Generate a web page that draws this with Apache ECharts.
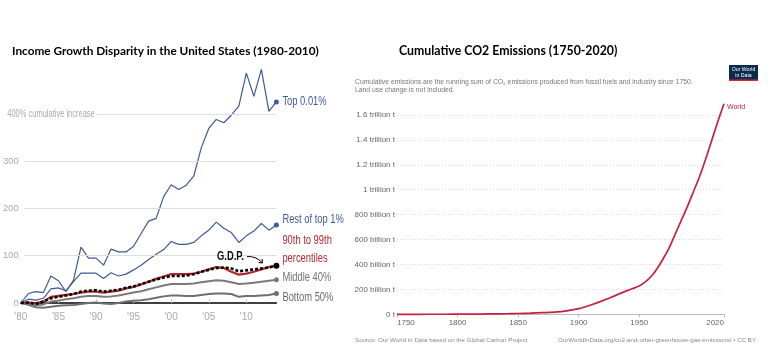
<!DOCTYPE html>
<html>
<head>
<meta charset="utf-8">
<script src="https://cdn.jsdelivr.net/npm/echarts@6.0.0/dist/echarts.min.js"></script>
<style>
html, body { margin: 0; padding: 0; background: #fff; }
#main { width: 768px; height: 351px; }
</style>
</head>
<body>
<div id="main"></div>
<script>
// left: cumulative income growth since 1980, in %
const years = [1980, 1981, 1982, 1983, 1984, 1985, 1986, 1987, 1988, 1989, 1990, 1991, 1992, 1993, 1994, 1995, 1996, 1997,
  1998, 1999, 2000, 2001, 2002, 2003, 2004, 2005, 2006, 2007, 2008, 2009, 2010, 2011, 2012, 2013, 2014]
const top001 = [0, 20, 24, 22, 57, 47, 24, 48, 118, 95, 95, 80, 114, 108, 108, 120, 147, 173,
  179, 225, 250, 240, 249, 268, 328, 369, 388, 381, 397, 416, 486, 437, 494, 405, 425]
const restTop1 = [0, 8, 6, 10, 30, 32, 26, 45, 63, 63, 63, 52, 64, 57, 61, 70, 80, 92,
  103, 113, 130, 124, 124, 128, 142, 154, 171, 158, 149, 128, 142, 152, 168, 154, 165]
const p90to99 = [0, 1, 0, 3, 13, 15, 17, 19, 22, 24, 24, 22, 24, 26, 31, 34, 39, 45,
  51, 56, 61, 61, 61, 62, 66, 71, 76, 74, 66, 60, 62, 66, 71, 76, 79]
const gdp = [0, 1, -2, 3, 10, 13, 16, 19, 24, 26, 27, 24, 26, 28, 32, 35, 40, 45,
  50, 54, 57, 57, 58, 61, 66, 70, 74, 75, 73, 67, 69, 71, 73, 75, 79]
const middle40 = [0, -2, -5, -3, 3, 5, 8, 10, 13, 15, 15, 13, 14, 16, 19, 22, 25, 29,
  33, 37, 40, 40, 40, 41, 44, 46, 48, 47, 44, 40, 41, 43, 45, 47, 49]
const bottom50 = [0, -4, -9, -10, -8, -6, -5, -4, -2, 0, 1, -1, -2, 0, 3, 5, 6, 8,
  11, 14, 16, 16, 15, 15, 17, 19, 20, 20, 19, 13, 15, 15, 16, 17, 20]
const incomeTicks = [1980, 1985, 1990, 1995, 2000, 2005, 2010]

// right: cumulative CO2 emissions, billion tonnes
const co2Years = [1750, 1760, 1770, 1780, 1790, 1800, 1810, 1820, 1830, 1840, 1850, 1860, 1870, 1880, 1890,
  1900, 1910, 1920, 1930, 1940, 1950, 1955, 1960, 1965, 1970, 1975, 1980, 1985, 1990, 1995, 2000, 2005, 2010, 2015, 2020]
const co2World = [0, 0.1, 0.2, 0.4, 0.6, 1, 1.5, 2.2, 3.2, 4.5, 6.5, 9, 13, 18, 28,
  45, 75, 110, 150, 190, 228, 260, 305, 370, 450, 540, 650, 760, 870, 990, 1110, 1250, 1400, 1550, 1690]
const co2Ticks = [1750, 1800, 1850, 1900, 1950, 2020]

const sans = "'Liberation Sans',Arial,sans-serif"
const blue = '#3f5a96'
const red = '#b7282e'
const squeeze = 0.72   // fake a condensed face, none is installed
const noLine = { show: false, lineStyle: { color: 'rgba(0,0,0,0)' } }

const pairs = (xs, ys) => xs.map((x, i) => {
    if (i === xs.length - 1) return { value: [x, ys[i]], symbol: 'circle' }
    return [x, ys[i]]
})

const incomeLine = (name, vals, color, width, extra) => Object.assign({
    name: name,
    type: 'line',
    xAxisIndex: 0,
    yAxisIndex: 0,
    data: pairs(years, vals),
    symbol: 'none',
    symbolSize: 5,
    showSymbol: true,
    clip: false,
    z: 3,
    itemStyle: { color: color },
    lineStyle: { color: color, width: width }
}, extra || {})

const chart = echarts.init(document.getElementById('main'))

const baseGraphic = [
    {
        type: 'text', left: 355, top: 78,
        style: {
            text: 'Cumulative emissions are the running sum of CO\u2082 emissions produced from fossil fuels and industry since 1750.\nLand use change is not included.',
            fill: '#777', font: '6.8px ' + sans, lineHeight: 8
        }
    },
    { type: 'rect', shape: { x: 729, y: 65, width: 29, height: 16 }, style: { fill: '#0c2a4d' } },
    { type: 'rect', shape: { x: 729, y: 79.5, width: 29, height: 1.5 }, style: { fill: '#d42b2b' } },
    {
        type: 'text', x: 743.5, y: 66.5,
        style: { text: 'Our World\nin Data', fill: '#fff', font: '5.2px ' + sans, align: 'center', lineHeight: 6 }
    },
    {
        type: 'text', left: 355, top: 337,
        style: { text: 'Source: Our World in Data based on the Global Carbon Project', fill: '#888', font: '6.2px ' + sans }
    },
    {
        type: 'text', left: 558, top: 337,
        style: { text: 'OurWorldInData.org/co2-and-other-greenhouse-gas-emissions/ \u2022 CC BY', fill: '#888', font: '6.2px ' + sans }
    },
    {
        type: 'text', x: 217, y: 257, scaleX: 0.78, z: 10,
        style: {
            text: 'G.D.P.', fill: '#111', fontFamily: sans, fontWeight: 'bold', fontSize: 12,
            textBorderWidth: 0, verticalAlign: 'middle'
        }
    },
    {
        type: 'bezierCurve',
        shape: { x1: 247, y1: 256.5, cpx1: 256, cpy1: 256, x2: 262, y2: 262.5 },
        style: { stroke: '#000', lineWidth: 1, fill: 'none' }
    },
    {
        type: 'polyline',
        shape: { points: [[258.5, 262.5], [262.5, 263], [262, 259]] },
        style: { stroke: '#000', lineWidth: 1, fill: 'none' }
    }
]

const option = {
    backgroundColor: '#fff',
    animation: false,
    title: [
        {
            text: 'Income Growth Disparity in the United States (1980-2010)',
            left: 12, top: 45, padding: 0,
            textStyle: { fontFamily: 'Lato', fontWeight: 'bold', fontSize: 11.8, color: '#000' }
        },
        {
            text: 'Cumulative CO2 Emissions (1750-2020)',
            left: 399, top: 45, padding: 0,
            textStyle: { fontFamily: 'Lato', fontWeight: 'bold', fontSize: 12.3, color: '#000' }
        }
    ],
    grid: [
        { left: 18, top: 66.5, width: 258.4, height: 236.5, show: false },
        { left: 397, top: 115, width: 327, height: 199.3, show: false }
    ],
    xAxis: [
        {
            gridIndex: 0, type: 'value', min: 1980, max: 2014,
            axisLine: { onZero: false, lineStyle: { color: '#000', width: 1.5 } },
            axisTick: { show: false },
            splitLine: { show: false },
            axisLabel: {
                customValues: incomeTicks,
                formatter: v => "'" + String(v).slice(2),
                color: '#aaa', fontFamily: sans, fontSize: 10, margin: 9
            }
        },
        {
            // little ticks that sit apart from the zero line
            gridIndex: 0, type: 'value', min: 1980, max: 2014, offset: 5,
            axisLine: noLine,
            axisTick: { customValues: incomeTicks, length: 4, lineStyle: { color: '#ccc' } },
            axisLabel: { show: false },
            splitLine: { show: false }
        },
        {
            gridIndex: 1, type: 'value', min: 1750, max: 2020,
            axisLine: { onZero: false, lineStyle: { color: '#bbb' } },
            axisTick: { customValues: co2Ticks, length: 3, lineStyle: { color: '#bbb' } },
            splitLine: { show: false },
            axisLabel: {
                customValues: co2Ticks,
                formatter: v => String(v),
                alignMinLabel: 'left', alignMaxLabel: 'right',
                color: '#666', fontFamily: sans, fontSize: 8, margin: 4
            }
        }
    ],
    yAxis: [
        {
            gridIndex: 0, type: 'value', min: 0, max: 500, interval: 100,
            axisLine: noLine,
            axisTick: { show: false },
            splitLine: { show: false },
            splitArea: { show: false },
            axisLabel: {
                formatter: v => (v < 400 ? String(v) : ''),
                color: '#aaa', fontFamily: sans, fontSize: 9.5, margin: 2
            }
        },
        {
            gridIndex: 1, type: 'value', min: 0, max: 1600, interval: 200,
            axisLine: noLine,
            axisTick: { show: false },
            splitLine: { show: true, lineStyle: { color: '#d8d8d8', type: [1, 2] } },
            axisLabel: {
                formatter: v => {
                    if (v === 0) return '0 t'
                    if (v < 1000) return v + ' billion t'
                    return (v / 1000) + ' trillion t'
                },
                color: '#666', fontFamily: sans, fontSize: 8, margin: 2
            }
        }
    ],
    graphic: baseGraphic,
    series: [
        {
            // light reference lines of the left chart
            type: 'line', xAxisIndex: 0, yAxisIndex: 0, data: [], z: 1, silent: true,
            markLine: {
                symbol: 'none', silent: true, animation: false,
                lineStyle: { color: '#ddd', width: 1, type: 'solid' },
                label: { show: false },
                data: [
                    [{ coord: [1980.5, 100] }, { coord: [2014, 100] }],
                    [{ coord: [1980.5, 200] }, { coord: [2014, 200] }],
                    [{ coord: [1980.5, 300] }, { coord: [2014, 300] }],
                    [{ coord: [1990.1, 400] }, { coord: [2014, 400] }]
                ]
            }
        },
        incomeLine('Bottom 50%', bottom50, '#6f6f6f', 2),
        incomeLine('Middle 40%', middle40, '#7a7a7a', 2),
        incomeLine('90th to 99th percentiles', p90to99, red, 2.2),
        incomeLine('G.D.P.', gdp, '#000', 2.6, {
            lineStyle: { color: '#000', width: 2.6, type: [3, 2] }, symbolSize: 6, z: 4
        }),
        incomeLine('Rest of top 1%', restTop1, blue, 1.2),
        incomeLine('Top 0.01%', top001, blue, 1.2),
        {
            name: 'World',
            type: 'line',
            xAxisIndex: 2,
            yAxisIndex: 1,
            data: co2Years.map((y, i) => [y, co2World[i]]),
            smooth: 0.3,
            symbol: 'none',
            clip: false,
            lineStyle: { color: '#c8203f', width: 1.7 },
            itemStyle: { color: '#c8203f' },
            endLabel: {
                show: true, formatter: 'World', color: '#c8203f',
                fontFamily: sans, fontSize: 7, distance: 3, offset: [0, 3]
            }
        }
    ]
}

chart.setOption(option)

// end-of-line names, placed from the axes' own scale
const last = years[years.length - 1]
const toPx = (x, y) => chart.convertToPixel({ xAxisIndex: 0, yAxisIndex: 0 }, [x, y])
const lineNames = [
    { text: 'Top 0.01%', vals: top001, color: blue, dy: -1 },
    { text: 'Rest of top 1%', vals: restTop1, color: blue, dy: -6 },
    { text: '90th to 99th\npercentiles', vals: p90to99, color: red, dy: -16 },
    { text: 'Middle 40%', vals: middle40, color: '#737373', dy: -2 },
    { text: 'Bottom 50%', vals: bottom50, color: '#6a6a6a', dy: 3.5 }
]
const nameGraphic = lineNames.map(n => {
    const p = toPx(last, n.vals[n.vals.length - 1])
    return {
        type: 'text', x: p[0] + 6, y: p[1] + n.dy, scaleX: squeeze,
        style: { text: n.text, fill: n.color, font: '13px ' + sans, verticalAlign: 'middle', lineHeight: 18 }
    }
})
const p400 = toPx(1990.1, 400)
nameGraphic.push({
    type: 'text', x: p400[0] - 2, y: p400[1], scaleX: 0.75,
    style: { text: '400% cumulative increase', fill: '#aaa', font: '10px ' + sans, align: 'right', verticalAlign: 'middle' }
})

option.graphic = baseGraphic.concat(nameGraphic)
chart.setOption(option, true)
</script>
</body>
</html>
